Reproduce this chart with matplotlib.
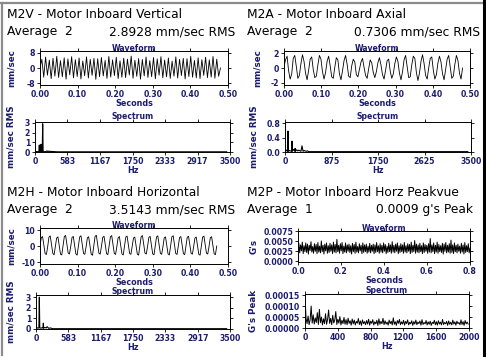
import numpy as np
import matplotlib
matplotlib.use("Agg")
import matplotlib.pyplot as plt
from matplotlib.lines import Line2D
from matplotlib.transforms import blended_transform_factory

m2v_wave = [0.0, 4.6, -4.9, 5.8, -3.8, 4.2, -5.6, 5.1, -4.3, 6.2, -5.0, 3.9, -4.7, 5.4, -5.9, 4.8,
            -3.6, 6.0, -5.2, 4.4, -4.5, 5.3, -5.8, 3.7, -4.1, 5.9, -5.3, 4.6, -3.9, 5.1, -6.0, 4.9,
            -4.6, 5.6, -4.2, 4.0, -5.5, 6.1, -4.8, 4.3, -4.0, 5.7, -5.6, 3.8, -4.9, 5.2, -5.1, 4.7,
            -3.7, 6.3, -5.4, 4.1, -4.4, 5.0, -5.9, 4.5, -4.2, 5.8, -5.0, 3.9, -4.6, 5.5, -5.7, 4.8,
            -3.8, 6.0, -5.2, 4.2, -4.7, 5.3, -5.5, 3.6, -4.3, 5.9, -5.3, 4.6, -4.0, 5.1, -5.8, 4.9,
            -4.5, 6.2, -4.9, 4.0, -5.2, 5.4, -5.6, 4.4, -3.9, 5.7, -5.1, 4.3, -4.8, 6.1, -5.4, 4.7,
            -4.4, 0.0]
m2v_spec_hz = [0, 8, 16, 30, 45, 70, 77, 84, 100, 108, 116, 130, 138, 146, 170, 200, 215, 230,
               255, 270, 285, 400, 800, 1500, 2500, 3440]
m2v_spec_amp = [0.08, 0.12, 0.05, 0.04, 0.03, 0.04, 0.72, 0.04, 0.03, 0.80, 0.04, 0.03, 2.92, 0.04,
                0.03, 0.05, 0.12, 0.04, 0.10, 0.03, 0.06, 0.02, 0.02, 0.02, 0.02, 0.02]

m2a_wave = [0.2, 1.1, 1.6, -0.4, -1.5, -0.8, 1.3, 1.7, 0.2, -1.4, -1.0, 0.6, 1.8, 0.9, -0.7, -1.6,
            -0.3, 1.2, 1.5, -0.2, -1.3, -1.1, 0.4, 1.7, 1.2, -0.5, -1.5, -0.6, 0.9, 1.6, 0.3, -1.2,
            -1.4, 0.1, 1.4, 1.1, -0.8, -1.6, -0.4, 1.0, 1.7, 0.5, -1.1, -1.3, 0.3, 1.2, 0.8, -0.9,
            -1.2, -0.2, 0.8, 1.3, 0.1, -1.0, -1.4, -0.1, 1.1, 0.7, -0.6, -1.3, -0.5, 0.7, 1.4, 0.4,
            -0.9, -1.5, -0.3, 1.0, 1.2, -0.4, -1.4, -0.8, 0.6, 1.5, 0.9, -0.7, -1.6, -0.5, 1.1, 1.7,
            0.2, -1.3, -1.2, 0.4, 1.6, 1.3, -0.6, -1.7, -0.7, 0.9, 1.8, 0.6, -1.0, -1.5, 0.0, 1.3,
            1.5, -0.3, -1.5, -0.9, 0.7, 1.6, 0.8, -0.8, -1.6, -0.2, 1.2, 1.7, 0.1, -1.4, -1.1, 0.5,
            1.7, 1.0, -0.7, -1.5, 0.0]
m2a_spec_hz = [0, 8, 20, 35, 50, 56, 62, 80, 100, 125, 131, 137, 160, 185, 190, 195, 220, 240,
               260, 300, 320, 340, 360, 400, 420, 450, 800, 1600, 2600, 3440]
m2a_spec_amp = [0.06, 0.08, 0.03, 0.05, 0.02, 0.58, 0.02, 0.04, 0.03, 0.02, 0.30, 0.02, 0.07, 0.02,
                0.10, 0.02, 0.06, 0.03, 0.05, 0.02, 0.17, 0.02, 0.04, 0.02, 0.03, 0.01, 0.01, 0.01,
                0.01, 0.01]

m2h_wave = [0.0, 5.2, 5.9, 0.6, -4.8, -5.3, -0.4, 5.6, 6.3, 0.9, -4.6, -5.5,
            -0.2, 5.0, 5.7, 0.5, -5.1, -5.6, 0.1, 5.9, 6.6, 1.0, -4.4, -5.0,
            -0.3, 5.3, 6.0, 0.7, -4.9, -5.7, 0.0, 5.7, 6.4, 0.8, -4.7, -5.2,
            -0.5, 5.1, 5.8, 0.4, -5.2, -5.8, 0.2, 6.0, 6.7, 1.1, -4.5, -5.1,
            -0.1, 5.4, 6.1, 0.6, -4.8, -5.4, 0.0, 5.8, 6.5, 0.9, -4.6, -5.3,
            -0.4, 5.2, 5.9, 0.5, -5.0, -5.6, 0.1, 5.6, 6.2, 0.8, -4.7, -5.2,
            -0.2, 5.0, 5.6, 0.4, -5.1, -5.7, 0.2, 5.9, 6.5, 1.0, -4.5, -5.0,
            -0.3, 5.4, 6.0, 0.6, -4.9, -5.5, 0.0, 5.7, 6.3, 0.8, -4.6, -5.2,
            -0.4, 5.1, 5.7, 0.5, -5.0, -5.6, 0.1, 5.8, 6.4, 0.9, -4.7, -5.3,
            -0.2, 5.3, 5.9, 0.6, -4.8, -5.4, 0.0, 5.5, 6.1, 0.7, -4.6, -5.1,
            -0.3, 5.0, 5.6, 0.4, -5.2, -5.7, 0.1, 5.6, 6.2, 0.8, -4.5, -5.0,
            -0.2, 5.2, 5.8, 0.5, -4.9, -5.4, 0.0]
m2h_spec_hz = [0, 10, 20, 35, 52, 60, 68, 90, 110, 126, 132, 138, 160, 185, 200, 230, 260, 300,
               600, 1500, 2500, 3440]
m2h_spec_amp = [0.15, 0.10, 0.12, 0.08, 0.10, 3.0, 0.10, 0.08, 0.12, 0.08, 0.55, 0.08, 0.15, 0.10,
                0.22, 0.06, 0.10, 0.03, 0.03, 0.03, 0.03, 0.03]

m2p_wave = [.0032, .0045, .0021, .0041, .0026, .0048, .0019, .0039, .0024, .0046, .0022, .0043, .0018, .0040, .0027, .0049, .0023, .0037, .0020, .0044,
            .0025, .0042, .0019, .0047, .0023, .0038, .0021, .0051, .0024, .0040, .0018, .0043, .0026, .0046, .0020, .0039, .0022, .0045, .0025, .0041,
            .0019, .0048, .0023, .0042, .0021, .0055, .0024, .0040, .0020, .0044, .0026, .0047, .0019, .0038, .0023, .0046, .0021, .0041, .0025, .0043,
            .0022, .0039, .0018, .0045, .0024, .0042, .0020, .0048, .0023, .0037, .0021, .0044, .0026, .0040, .0019, .0046, .0022, .0041, .0024, .0043,
            .0020, .0038, .0023, .0045, .0021, .0040, .0025, .0043, .0019, .0041, .0022, .0047, .0024, .0039, .0020, .0044, .0023, .0040, .0021, .0046,
            .0025, .0042, .0019, .0038, .0022, .0045, .0024, .0041, .0020, .0049, .0023, .0040, .0021, .0043, .0025, .0046, .0019, .0039, .0022, .0044,
            .0024, .0041, .0020, .0047, .0023, .0039, .0021, .0044, .0025, .0042, .0019, .0048, .0022, .0040, .0024, .0052, .0020, .0043, .0023, .0041,
            .0021, .0045, .0024, .0039, .0019, .0046, .0022, .0042, .0025, .0040, .0020, .0044, .0023, .0057, .0021, .0041, .0024, .0046, .0019, .0040,
            .0023, .0048, .0020, .0042, .0024, .0039, .0022, .0045, .0018, .0043, .0025, .0047, .0021, .0040, .0023, .0044, .0020, .0053, .0022, .0041,
            .0019, .0046, .0024, .0040, .0021, .0043, .0025, .0038, .0020, .0045, .0023, .0041, .0018, .0047, .0022, .0039, .0024, .0044, .0021, .0033]
m2p_spec = [1.5e-4, 4.5e-5, 2.0e-5, 5.5e-5, 1.5e-5, 3.8e-5, 1.0e-4, 2.2e-5, 6.0e-5, 1.8e-5, 4.6e-5, 2.5e-5, 7.0e-5, 1.6e-5, 8.5e-5, 2.4e-5, 5.0e-5, 1.4e-5, 4.2e-5, 2.0e-5,
            6.5e-5, 1.7e-5, 3.9e-5, 8.2e-5, 2.1e-5, 4.4e-5, 1.5e-5, 5.8e-5, 2.3e-5, 3.6e-5, 7.5e-5, 1.6e-5, 4.0e-5, 2.2e-5, 5.2e-5, 1.4e-5, 3.5e-5, 2.0e-5, 4.8e-5, 1.7e-5,
            3.8e-5, 1.5e-5, 4.5e-5, 2.1e-5, 3.3e-5, 1.3e-5, 4.1e-5, 1.9e-5, 3.6e-5, 1.4e-5, 3.0e-5, 2.2e-5, 4.3e-5, 1.6e-5, 3.2e-5, 1.2e-5, 3.7e-5, 2.0e-5, 2.9e-5, 1.5e-5,
            3.4e-5, 1.8e-5, 4.0e-5, 1.3e-5, 3.1e-5, 2.1e-5, 3.8e-5, 1.4e-5, 2.8e-5, 1.9e-5, 3.5e-5, 1.2e-5, 4.2e-5, 1.7e-5, 3.0e-5, 2.0e-5, 4.4e-5, 1.5e-5, 3.3e-5, 1.8e-5,
            2.7e-5, 1.3e-5, 3.6e-5, 2.0e-5, 3.1e-5, 1.4e-5, 4.6e-5, 1.7e-5, 2.9e-5, 1.2e-5, 3.4e-5, 2.1e-5, 3.9e-5, 1.5e-5, 2.8e-5, 1.8e-5, 3.5e-5, 1.3e-5, 3.0e-5, 2.0e-5,
            3.7e-5, 1.4e-5, 2.6e-5, 1.9e-5, 3.3e-5, 1.2e-5, 2.9e-5, 1.8e-5, 3.6e-5, 1.5e-5, 2.7e-5, 2.0e-5, 3.2e-5, 1.3e-5, 3.8e-5, 1.6e-5, 2.5e-5, 1.9e-5, 3.4e-5, 1.4e-5,
            2.8e-5, 1.7e-5, 3.1e-5, 1.2e-5, 2.6e-5, 2.0e-5, 3.5e-5, 1.5e-5, 2.9e-5, 1.3e-5, 3.3e-5, 1.8e-5, 2.7e-5, 1.4e-5, 3.9e-5, 1.6e-5, 2.5e-5, 1.9e-5, 3.0e-5, 1.2e-5,
            3.2e-5, 1.7e-5, 2.6e-5, 1.4e-5, 3.6e-5, 1.8e-5, 2.8e-5, 1.3e-5, 3.1e-5, 2.0e-5, 2.5e-5, 1.5e-5, 3.7e-5, 1.6e-5, 2.9e-5, 1.2e-5, 3.4e-5, 1.9e-5, 2.7e-5, 1.8e-5]

titles = ["M2V - Motor Inboard Vertical", "M2A - Motor Inboard Axial",
          "M2H - Motor Inboard Horizontal", "M2P - Motor Inboard Horz Peakvue"]
averages = ["Average  2", "Average  2", "Average  2", "Average  1"]
overall = ["2.8928 mm/sec RMS", "0.7306 mm/sec RMS", "3.5143 mm/sec RMS", "0.0009 g's Peak"]

NAVY = "#1c1c6e"
W, H = 486, 358

fig = plt.figure(figsize=(W / 100, H / 100), dpi=100)
fig.patch.set_facecolor("white")


def px_axes(l, t, r, b):
    return fig.add_axes([l / W, 1 - b / H, (r - l) / W, (b - t) / H])


def style(ax, title, xlabel, ylabel, ylab_x, xticks, xlabels, yticks, ylabels, tpad):
    ax.set_xticks(xticks)
    ax.set_xticklabels(xlabels)
    ax.set_yticks(yticks)
    ax.set_yticklabels(ylabels)
    ax.tick_params(direction="out", length=2, width=0.6, pad=1.5, top=True, right=True,
                   labelsize=5.6, labelcolor=NAVY)
    for lab in ax.get_xticklabels() + ax.get_yticklabels():
        lab.set_fontweight("bold")
    for s in ax.spines.values():
        s.set_linewidth(0.7)
    ax.set_title(title, fontsize=5.6, fontweight="bold", color=NAVY, pad=tpad)
    ax.set_xlabel(xlabel, fontsize=5.8, fontweight="bold", color=NAVY, labelpad=0.3)
    # y label sits at a fixed pixel column, centred on the axes height
    ax.set_ylabel(ylabel, fontsize=6.3, fontweight="bold", color=NAVY, va="center")
    ax.yaxis.set_label_coords(ylab_x / W, 0.5,
                              transform=blended_transform_factory(fig.transFigure, ax.transAxes))


def header(x0, y0, right, i):
    fig.text(x0 / W, 1 - y0 / H, titles[i], fontsize=8.8, va="center", ha="left")
    fig.text(x0 / W, 1 - (y0 + 17) / H, averages[i], fontsize=8.8, va="center", ha="left")
    fig.text(right / W, 1 - (y0 + 17) / H, overall[i], fontsize=8.8, va="center", ha="right")


sec_ticks = [0, 0.1, 0.2, 0.3, 0.4, 0.5]
sec_labels = ["0.00", "0.10", "0.20", "0.30", "0.40", "0.50"]

# M2V
header(7, 15, 235, 0)
ax = px_axes(40, 51, 228, 85)
ax.plot(np.linspace(0, 0.48, len(m2v_wave)), m2v_wave, color="black", lw=0.6)
ax.set_xlim(0, 0.5)
ax.set_ylim(-9, 9)
style(ax, "Waveform", "Seconds", "mm/sec", 11, sec_ticks, sec_labels, [-8, 0, 8],
      ["-8", "0", "8"], 0)

ax = px_axes(35, 122, 230, 152)
ax.plot(m2v_spec_hz, m2v_spec_amp, color="black", lw=0.8)
ax.set_xlim(0, 3500)
ax.set_ylim(0, 3.1)
hz6 = [0, 583, 1167, 1750, 2333, 2917, 3500]
style(ax, "Spectrum", "Hz", "mm/sec RMS", 11, hz6, [str(v) for v in hz6], [0, 1, 2, 3],
      ["0", "1", "2", "3"], 2.5)

# M2A
header(247, 15, 480, 1)
ax = px_axes(284, 51, 470, 85)
ax.plot(np.linspace(0, 0.48, len(m2a_wave)), m2a_wave, color="black", lw=0.6)
ax.set_xlim(0, 0.5)
ax.set_ylim(-2.3, 2.3)
style(ax, "Waveform", "Seconds", "mm/sec", 257, sec_ticks, sec_labels, [-2, 0, 2],
      ["-2", "0", "2"], 0)

ax = px_axes(285, 122, 471, 152)
ax.plot(m2a_spec_hz, m2a_spec_amp, color="black", lw=0.8)
ax.set_xlim(0, 3500)
ax.set_ylim(0, 0.83)
hz5 = [0, 875, 1750, 2625, 3500]
style(ax, "Spectrum", "Hz", "mm/sec RMS", 254, hz5, [str(v) for v in hz5], [0, 0.4, 0.8],
      ["0.0", "0.4", "0.8"], 2.5)

# M2H
header(7, 193, 235, 2)
ax = px_axes(40, 228, 228, 264)
ax.plot(np.linspace(0, 0.47, len(m2h_wave)), m2h_wave, color="black", lw=0.6)
ax.set_xlim(0, 0.5)
ax.set_ylim(-11.25, 11.25)
style(ax, "Waveform", "Seconds", "mm/sec", 11, sec_ticks, sec_labels, [-10, 0, 10],
      ["-10", "0", "10"], 0)

ax = px_axes(36, 295, 230, 329)
ax.plot(m2h_spec_hz, m2h_spec_amp, color="black", lw=0.8)
ax.set_xlim(0, 3500)
ax.set_ylim(0, 3.2)
style(ax, "Spectrum", "Hz", "mm/sec RMS", 11, hz6, [str(v) for v in hz6], [0, 1, 2, 3],
      ["0", "1", "2", "3"], 0.5)

# M2P
header(247, 193, 473, 3)
ax = px_axes(298, 231, 470, 262)
ax.plot(np.linspace(0, 0.8, len(m2p_wave)), m2p_wave, color="black", lw=0.7)
ax.set_xlim(0, 0.8)
ax.set_ylim(-0.0002, 0.0076)
style(ax, "Waveform", "Seconds", "G's", 254, [0, 0.2, 0.4, 0.6, 0.8],
      ["0.0", "0.2", "0.4", "0.6", "0.8"], [0, 0.0025, 0.005, 0.0075],
      ["0.0000", "0.0025", "0.0050", "0.0075"], 0)

ax = px_axes(305, 294, 469, 328)
ax.plot(np.linspace(0, 1990, len(m2p_spec)), m2p_spec, color="black", lw=0.7)
ax.set_xlim(0, 2000)
ax.set_ylim(0, 0.000155)
style(ax, "Spectrum", "Hz", "G's Peak", 254, [0, 400, 800, 1200, 1600, 2000],
      ["0", "400", "800", "1200", "1600", "2000"], [0, 0.00005, 0.0001, 0.00015],
      ["0.00000", "0.00005", "0.00010", "0.00015"], 0.5)

# screen frame
fig.add_artist(Line2D([0, 484 / W], [1 - 3 / H, 1 - 3 / H], color="#8c8c8c", lw=1.6))
fig.add_artist(Line2D([2 / W, 2 / W], [1 - 3 / H, 1 - 355 / H], color="#8c8c8c", lw=1.6))
fig.add_artist(Line2D([483.5 / W, 483.5 / W], [1 - 0 / H, 1 - 355 / H], color="black", lw=2.2))

fig.savefig("out.png", dpi=100)
